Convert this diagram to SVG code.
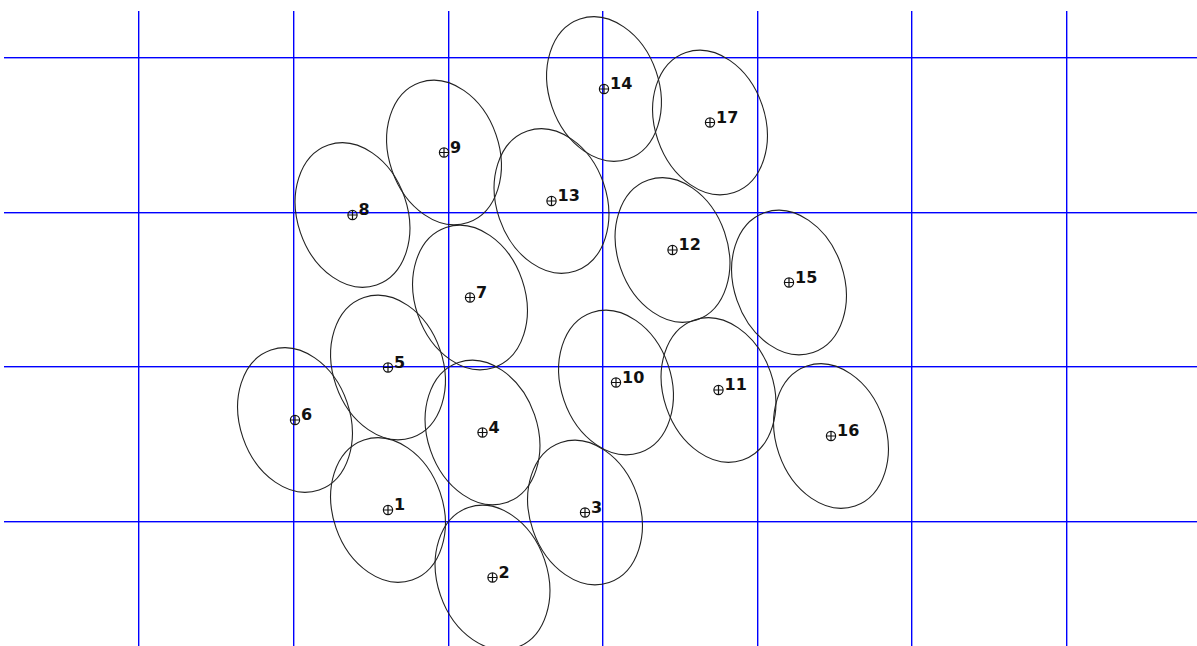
<svg xmlns="http://www.w3.org/2000/svg" width="1197" height="646" viewBox="0 0 1197 646">
<style>
.el{fill:none;stroke:#222;stroke-width:1.1}
.mk{fill:none;stroke:#111;stroke-width:1.2}
.lb{font-family:"DejaVu Sans",Verdana,sans-serif;font-weight:bold;font-size:16px;fill:#111}
.g{fill:#0000ff}
</style>
<defs>
<g id="m"><circle class="mk" cx="0" cy="0" r="4.6"/><path class="mk" d="M-4.6 0H4.6M0 -4.6V4.6"/></g>
<ellipse id="e" class="el" cx="0" cy="0" rx="55" ry="74" transform="rotate(-19)"/>
</defs>
<rect width="1197" height="646" fill="#ffffff"/>
<g id="grid">
<rect class="g" x="138" y="11" width="1.4" height="635"/>
<rect class="g" x="293" y="11" width="1.4" height="635"/>
<rect class="g" x="448" y="11" width="1.4" height="635"/>
<rect class="g" x="602" y="11" width="1.4" height="635"/>
<rect class="g" x="757" y="11" width="1.4" height="635"/>
<rect class="g" x="911" y="11" width="1.4" height="635"/>
<rect class="g" x="1066" y="11" width="1.4" height="635"/>
<rect class="g" x="4" y="57" width="1193" height="1.4"/>
<rect class="g" x="4" y="212" width="1193" height="1.4"/>
<rect class="g" x="4" y="366" width="1193" height="1.4"/>
<rect class="g" x="4" y="521" width="1193" height="1.4"/>
</g>
<g id="connectors"></g>
<g id="n1" transform="translate(388,510)"><use href="#e"/><use href="#m"/><text class="lb" x="6" y="0">1</text></g>
<g id="n2" transform="translate(492.5,577.5)"><use href="#e"/><use href="#m"/><text class="lb" x="6" y="0">2</text></g>
<g id="n3" transform="translate(585,512.5)"><use href="#e"/><use href="#m"/><text class="lb" x="6" y="0">3</text></g>
<g id="n4" transform="translate(482.5,432.5)"><use href="#e"/><use href="#m"/><text class="lb" x="6" y="0">4</text></g>
<g id="n5" transform="translate(388,367.5)"><use href="#e"/><use href="#m"/><text class="lb" x="6" y="0">5</text></g>
<g id="n6" transform="translate(295,420)"><use href="#e"/><use href="#m"/><text class="lb" x="6" y="0">6</text></g>
<g id="n7" transform="translate(470,297.5)"><use href="#e"/><use href="#m"/><text class="lb" x="6" y="0">7</text></g>
<g id="n8" transform="translate(352.5,215)"><use href="#e"/><use href="#m"/><text class="lb" x="6" y="0">8</text></g>
<g id="n9" transform="translate(444,152.5)"><use href="#e"/><use href="#m"/><text class="lb" x="6" y="0">9</text></g>
<g id="n10" transform="translate(616,382.5)"><use href="#e"/><use href="#m"/><text class="lb" x="6" y="0">10</text></g>
<g id="n11" transform="translate(718.5,390)"><use href="#e"/><use href="#m"/><text class="lb" x="6" y="0">11</text></g>
<g id="n12" transform="translate(672.5,250)"><use href="#e"/><use href="#m"/><text class="lb" x="6" y="0">12</text></g>
<g id="n13" transform="translate(551.5,201)"><use href="#e"/><use href="#m"/><text class="lb" x="6" y="0">13</text></g>
<g id="n14" transform="translate(604,89)"><use href="#e"/><use href="#m"/><text class="lb" x="6" y="0">14</text></g>
<g id="n15" transform="translate(789,282.5)"><use href="#e"/><use href="#m"/><text class="lb" x="6" y="0">15</text></g>
<g id="n16" transform="translate(831,436)"><use href="#e"/><use href="#m"/><text class="lb" x="6" y="0">16</text></g>
<g id="n17" transform="translate(710,122.5)"><use href="#e"/><use href="#m"/><text class="lb" x="6" y="0">17</text></g>
</svg>
